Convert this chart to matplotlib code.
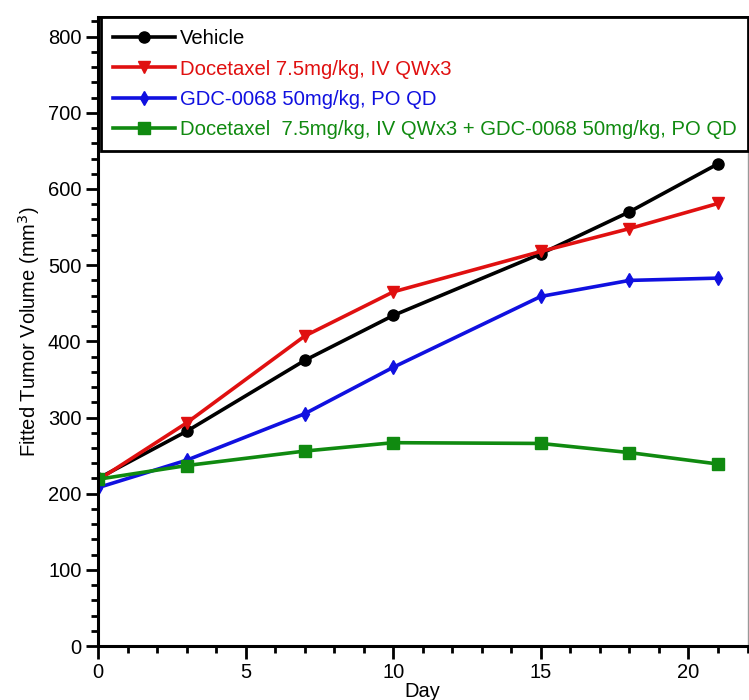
import numpy as np
import matplotlib
matplotlib.use("Agg")
import matplotlib.pyplot as plt
from matplotlib.ticker import MultipleLocator

plt.rcParams['font.family'] = ['Liberation Sans', 'DejaVu Sans']

# data
days = [0, 3, 7, 10, 15, 18, 21]
vehicle = [220, 282, 375, 434, 515, 570, 633]
docetaxel = [218, 293, 407, 465, 518, 548, 581]
gdc = [208, 244, 305, 366, 459, 480, 483]
combo = [219, 237, 256, 267, 266, 254, 239]

labels = ["Vehicle",
          "Docetaxel 7.5mg/kg, IV QWx3",
          "GDC-0068 50mg/kg, PO QD",
          "Docetaxel  7.5mg/kg, IV QWx3 + GDC-0068 50mg/kg, PO QD"]
colors = ["black", "#e01010", "#1010e0", "#108a10"]
markers = ["o", "v", "d", "s"]
msizes = [8, 9, 7, 9]

fig = plt.figure(figsize=(7.49, 7.0), dpi=100)
ax = fig.add_axes([0.131, 0.077, 0.867, 0.899])

for y, lab, c, m, ms in zip([vehicle, docetaxel, gdc, combo], labels, colors, markers, msizes):
    ax.plot(days, y, color=c, marker=m, markersize=ms, linewidth=2.6, label=lab)

ax.set_xlim(0, 22)
ax.set_ylim(0, 826)
ax.xaxis.set_major_locator(MultipleLocator(5))
ax.xaxis.set_minor_locator(MultipleLocator(1))
ax.yaxis.set_major_locator(MultipleLocator(100))
ax.yaxis.set_minor_locator(MultipleLocator(20))
ax.tick_params(which='major', direction='out', length=9, width=2, labelsize=14.5, pad=3)
ax.tick_params(which='minor', direction='out', length=5, width=2)

for s in ['left', 'bottom']:
    ax.spines[s].set_linewidth(2.2)
ax.spines['right'].set_color('#999999')
ax.spines['right'].set_linewidth(1)
ax.spines['top'].set_linewidth(2)

ax.set_xlabel("Day", fontsize=14.5, labelpad=0)
ax.set_ylabel("Fitted Tumor Volume (mm$^3$)", fontsize=14.5, labelpad=4)

leg = ax.legend(loc='upper left', bbox_to_anchor=(0.004, 1, 0.996, 0), mode='expand',
                borderaxespad=0, fancybox=False, edgecolor='black', framealpha=1,
                fontsize=14.6, labelcolor='linecolor', handlelength=3.05, handletextpad=0.25,
                labelspacing=0.55, borderpad=0.62)
leg.get_frame().set_linewidth(2)

fig.savefig("out.png", dpi=100)
